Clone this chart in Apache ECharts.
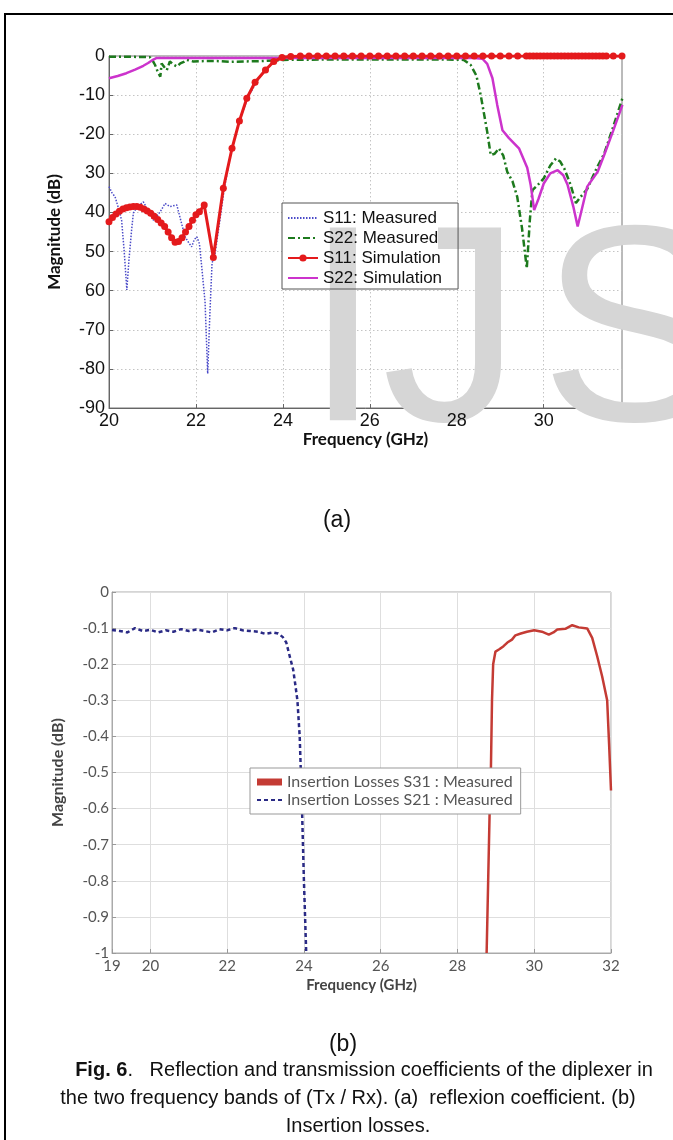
<!DOCTYPE html>
<html>
<head>
<meta charset="utf-8">
<script src="https://cdn.jsdelivr.net/npm/echarts@6/dist/echarts.min.js"></script>
<style>
  html, body { margin: 0; padding: 0; background: #fff; }
  #main { width: 673px; height: 1140px; }
</style>
</head>
<body>
<div id="main"></div>
<script>
// ---------- (a) reflexion coefficient ----------
const freqTicksA = [20, 22, 24, 26, 28, 30];
const dbLabelsA = ['0', '-10', '-20', '30', '40', '50', '60', '-70', '-80', '-90'];

// S11 measured (blue dotted)
const s11MeasFreq = [20.0, 20.07, 20.14, 20.22, 20.29, 20.35, 20.41, 20.46, 20.52, 20.56, 20.65, 20.79, 20.9, 21.02, 21.1, 21.18, 21.29, 21.4, 21.56, 21.65,
  21.75, 21.82, 21.9, 21.96, 22.02, 22.08, 22.14, 22.21, 22.27, 22.32, 22.37, 22.44, 22.55, 22.65, 22.8, 23.0, 23.2, 23.4, 23.6, 23.8,
  24.0, 24.4, 25.0, 26.0, 27.0, 28.0, 29.0, 30.0, 31.0, 31.8];
const s11MeasDb = [-33.4, -35, -36, -39, -42, -50, -59.8, -52, -44.5, -40.2, -38.5, -37.3, -39.5, -42, -41, -39.8, -37.7, -38.5, -38.1, -42,
  -46.2, -47.5, -48.8, -47, -46.2, -48, -54.7, -63, -81.2, -66, -53, -50.5, -42, -34, -25, -16.5, -10.5, -6.5, -3.5, -1.5,
  -0.5, -0.2, -0.1, -0.1, -0.1, -0.1, -0.1, -0.1, -0.1, -0.1];

// S22 measured (green dash-dot)
const s22MeasFreq = [20.0, 20.5, 20.94, 21.02, 21.06, 21.12, 21.18, 21.21, 21.27, 21.33, 21.4, 21.48, 21.56, 21.64, 21.72, 21.79, 21.94, 22.2, 22.48, 22.8,
  23.1, 23.5, 24.0, 25.0, 26.0, 27.0, 27.8, 28.16, 28.32, 28.45, 28.55, 28.7, 28.78, 28.87, 28.97, 29.07, 29.16, 29.28, 29.39, 29.5,
  29.61, 29.68, 29.74, 29.86, 30.0, 30.15, 30.28, 30.38, 30.47, 30.62, 30.74, 30.85, 31.0, 31.22, 31.39, 31.6, 31.81];
const s22MeasDb = [-0.2, -0.2, -0.3, -1.5, -2.3, -4, -5.3, -1.9, -2.8, -3.6, -1.4, -2.2, -2.7, -1.9, -1.5, -1.0, -1.4, -1.3, -1.3, -1.5,
  -1.4, -1.3, -1.0, -0.9, -0.9, -0.9, -0.9, -1.0, -2.3, -5, -10, -19.4, -25.3, -25, -23.6, -25.5, -29.6, -32, -36, -44,
  -54.3, -42, -34.3, -33, -31.3, -28, -26.2, -27, -28.7, -33, -37.6, -36, -34, -28.6, -25, -18, -10.8];

// S11 simulation (red, circles)
const s11SimFreq = [20.0, 20.08, 20.16, 20.24, 20.32, 20.40, 20.48, 20.56, 20.64, 20.72, 20.80, 20.88, 20.96, 21.04, 21.12, 21.20, 21.28, 21.36, 21.44, 21.52,
  21.60, 21.68, 21.76, 21.84, 21.92, 22.0, 22.08, 22.19, 22.4, 22.63, 22.83, 23.0, 23.17, 23.36, 23.6, 23.79, 23.98,
  24.18, 24.4, 24.6, 24.8, 25.0, 25.2, 25.4, 25.6, 25.8, 26.0, 26.2, 26.4, 26.6, 26.8, 27.0, 27.2, 27.4, 27.6, 27.8, 28.0,
  28.2, 28.4, 28.6, 28.8, 29.0, 29.2, 29.4, 29.6, 29.68, 29.76, 29.84, 29.92, 30.0, 30.08, 30.16, 30.24, 30.32, 30.4, 30.48,
  30.56, 30.64, 30.72, 30.8, 30.88, 30.96, 31.04, 31.12, 31.2, 31.28, 31.36, 31.44, 31.6, 31.8];
const s11SimDb = [-42.4, -41.3, -40.4, -39.7, -39.1, -38.8, -38.6, -38.5, -38.5, -38.7, -39.1, -39.6, -40.2, -41.0, -41.8, -42.7, -43.6, -45.0, -46.5, -47.6,
  -47.4, -46.5, -45.0, -43.6, -42.0, -40.6, -39.8, -38.1, -51.5, -33.8, -23.6, -16.6, -10.8, -6.7, -3.6, -1.4, -0.4,
  -0.15, 0, 0, 0, 0, 0, 0, 0, 0, 0, 0, 0, 0, 0, 0, 0, 0, 0, 0, 0,
  0, 0, 0, 0, 0, 0, 0, 0, 0, 0, 0, 0, 0, 0, 0, 0, 0, 0, 0,
  0, 0, 0, 0, 0, 0, 0, 0, 0, 0, 0, 0, 0, 0];

// S22 simulation (magenta)
const s22SimFreq = [20.0, 20.2, 20.4, 20.6, 20.79, 20.9, 21.02, 21.1, 21.17, 22.0, 24.0, 26.0, 28.0, 28.4, 28.59, 28.7, 28.82, 28.93, 29.05, 29.2,
  29.43, 29.62, 29.7, 29.78, 29.88, 30.0, 30.15, 30.32, 30.45, 30.55, 30.68, 30.78, 30.88, 31.0, 31.24, 31.39, 31.6, 31.81];
const s22SimDb = [-5.7, -5.1, -4.4, -3.5, -2.5, -1.8, -0.9, -0.5, -0.5, -0.5, -0.5, -0.5, -0.5, -0.5, -0.7, -2, -5.7, -12.5, -19, -21,
  -23.6, -28.6, -33, -39.4, -36.5, -32.6, -30, -29.2, -30.5, -33, -38.5, -43.6, -39, -33.4, -29.6, -25.3, -19, -12.5];

// ---------- (b) insertion losses ----------
const freqTicksB = [19, 20, 22, 24, 26, 28, 30, 32];
const dbLabelsB = ['0', '-0.1', '-0.2', '-0.3', '-0.4', '-0.5', '-0.6', '-0.7', '-0.8', '-0.9', '-1'];

const s31Freq = [28.76, 28.8, 28.84, 28.87, 28.9, 28.93, 28.99, 29.1, 29.2, 29.3, 29.42, 29.51, 29.65, 29.81, 30.0, 30.2, 30.38, 30.5, 30.6, 30.81,
  30.99, 31.16, 31.38, 31.51, 31.64, 31.77, 31.9, 31.95, 32.0];
const s31Db = [-1.0, -0.8, -0.6, -0.5, -0.3, -0.2, -0.165, -0.158, -0.15, -0.14, -0.132, -0.12, -0.115, -0.11, -0.106, -0.11, -0.118, -0.112, -0.104, -0.102,
  -0.092, -0.098, -0.101, -0.127, -0.178, -0.234, -0.3, -0.42, -0.55];

const s21Freq = [19.0, 19.2, 19.4, 19.6, 19.8, 20.0, 20.2, 20.4, 20.6, 20.8, 21.0, 21.2, 21.4, 21.6, 21.8, 22.0, 22.2, 22.4, 22.6, 22.8,
  23.0, 23.2, 23.33, 23.45, 23.54, 23.63, 23.72, 23.78, 23.83, 23.89, 23.92, 23.95, 24.0, 24.06];
const s21Db = [-0.105, -0.108, -0.112, -0.100, -0.108, -0.105, -0.112, -0.106, -0.110, -0.103, -0.108, -0.104, -0.108, -0.112, -0.103, -0.106, -0.100, -0.106, -0.108, -0.110,
  -0.116, -0.112, -0.115, -0.125, -0.14, -0.178, -0.215, -0.26, -0.3, -0.4, -0.5, -0.6, -0.8, -1.0];

function pairs(xs, ys) {
  return xs.map(function (x, i) { return [x, ys[i]]; });
}

var myChart = echarts.init(document.getElementById('main'));

var fontA = '"Liberation Sans", Arial, sans-serif';
var fontB = 'Lato, "Open Sans", sans-serif';
var capFont = '20px "Liberation Sans", Arial';

var option = {
  animation: false,
  backgroundColor: '#fff',
  grid: [
    {left: 109, top: 56, width: 513, height: 352, show: true, borderColor: '#777', borderWidth: 1, backgroundColor: 'transparent'},
    {left: 112, top: 592, width: 499, height: 361, show: true, borderColor: '#aaa', borderWidth: 1, backgroundColor: '#fff'}
  ],
  xAxis: [
    {
      // grid lines and ticks of (a)
      gridIndex: 0, type: 'value', min: 20, max: 31.8, position: 'bottom',
      axisLine: {show: true, onZero: false, lineStyle: {color: '#666'}},
      axisTick: {show: true, inside: true, length: 4, customValues: freqTicksA, lineStyle: {color: '#666'}},
      axisLabel: {show: false, customValues: freqTicksA},
      splitLine: {show: true, lineStyle: {color: '#c4c4c4', type: [1.5, 2.5], width: 1}}
    },
    {
      gridIndex: 1, type: 'value', min: 19, max: 32,
      axisLine: {show: true, onZero: false, lineStyle: {color: '#aaa'}},
      axisTick: {show: true, inside: true, length: 4, customValues: freqTicksB, lineStyle: {color: '#999'}},
      axisLabel: {customValues: freqTicksB, color: '#555', fontSize: 15, fontFamily: fontB, margin: 6, showMinLabel: true},
      splitLine: {show: true, lineStyle: {color: '#dedede', width: 1}},
      name: 'Frequency (GHz)', nameLocation: 'middle', nameGap: 25,
      nameTextStyle: {fontFamily: fontB, fontWeight: 'bold', fontSize: 15, color: '#444'}
    },
    {
      // tick labels of (a), drawn above the watermark
      gridIndex: 0, type: 'value', min: 20, max: 31.8, position: 'bottom', z: 3,
      axisLine: {show: false, onZero: false},
      axisTick: {show: false, customValues: freqTicksA},
      axisLabel: {customValues: freqTicksA, color: '#111', fontSize: 18, fontFamily: fontA, margin: 4},
      splitLine: {show: false},
      name: 'Frequency (GHz)', nameLocation: 'middle', nameGap: 22,
      nameTextStyle: {fontFamily: fontB, fontWeight: 'bold', fontSize: 17, color: '#111'}
    }
  ],
  yAxis: [
    {
      gridIndex: 0, type: 'value', min: -90, max: 0, interval: 10,
      axisLine: {show: true, onZero: false, lineStyle: {color: '#666'}},
      axisTick: {show: true, inside: true, length: 4, lineStyle: {color: '#666'}},
      axisLabel: {
        color: '#111', fontSize: 18, fontFamily: fontA, margin: 4,
        formatter: function (v) { return dbLabelsA[Math.round(-v / 10)]; }
      },
      splitLine: {show: true, lineStyle: {color: '#c4c4c4', type: [1.5, 2.5], width: 1}},
      name: 'Magnitude (dB)', nameLocation: 'middle', nameGap: 46, nameRotate: 90,
      nameTextStyle: {fontFamily: fontB, fontWeight: 'bold', fontSize: 17, color: '#111'}
    },
    {
      gridIndex: 1, type: 'value', min: -1, max: 0, interval: 0.1,
      axisLine: {show: true, onZero: false, lineStyle: {color: '#aaa'}},
      axisTick: {show: true, inside: true, length: 4, lineStyle: {color: '#999'}},
      axisLabel: {
        color: '#555', fontSize: 15, fontFamily: fontB, margin: 3,
        formatter: function (v) { return dbLabelsB[Math.round(-v * 10)]; }
      },
      splitLine: {show: true, lineStyle: {color: '#dedede', width: 1}},
      name: 'Magnitude (dB)', nameLocation: 'middle', nameGap: 46, nameRotate: 90,
      nameTextStyle: {fontFamily: fontB, fontWeight: 'bold', fontSize: 16, color: '#444'}
    }
  ],
  legend: [
    {
      orient: 'vertical', left: 282, top: 203,
      itemWidth: 30, itemHeight: 9, itemGap: 2,
      padding: [6, 16, 2, 5],
      borderColor: '#555', borderWidth: 1, borderRadius: 0,
      backgroundColor: 'transparent',
      textStyle: {fontSize: 17, fontFamily: fontA, color: '#111', lineHeight: 18},
      data: [
        {name: 'S11: Measured', itemStyle: {opacity: 0}},
        {name: 'S22: Measured', itemStyle: {opacity: 0}},
        {name: 'S11: Simulation'},
        {name: 'S22: Simulation', itemStyle: {opacity: 0}}
      ]
    },
    {
      orient: 'vertical', left: 250, top: 768,
      itemWidth: 25, itemHeight: 7, itemGap: 2,
      padding: [6, 8, 6, 6],
      borderColor: '#999', borderWidth: 1, borderRadius: 0,
      backgroundColor: '#fff',
      textStyle: {fontSize: 16, fontFamily: fontB, color: '#555', lineHeight: 16},
      data: [
        {name: 'Insertion Losses S31 : Measured', icon: 'rect'},
        {name: 'Insertion Losses S21 : Measured', itemStyle: {opacity: 0}}
      ]
    }
  ],
  series: [
    {
      name: 'S11: Measured', type: 'line', xAxisIndex: 0, yAxisIndex: 0,
      data: pairs(s11MeasFreq, s11MeasDb), symbol: 'none',
      lineStyle: {color: '#4a4ac8', width: 1.5, type: [1.5, 1.5]}, itemStyle: {color: '#4a4ac8'}
    },
    {
      name: 'S22: Measured', type: 'line', xAxisIndex: 0, yAxisIndex: 0,
      data: pairs(s22MeasFreq, s22MeasDb), symbol: 'none',
      lineStyle: {color: '#1d7a1d', width: 2.5, type: [7, 3, 2, 3]}, itemStyle: {color: '#1d7a1d'}
    },
    {
      name: 'S22: Simulation', type: 'line', xAxisIndex: 0, yAxisIndex: 0,
      data: pairs(s22SimFreq, s22SimDb), symbol: 'none',
      lineStyle: {color: '#cc33cc', width: 2.5}, itemStyle: {color: '#cc33cc'}
    },
    {
      name: 'S11: Simulation', type: 'line', xAxisIndex: 0, yAxisIndex: 0,
      data: pairs(s11SimFreq, s11SimDb), symbol: 'circle', symbolSize: 7, showSymbol: true,
      lineStyle: {color: '#e41a1c', width: 3}, itemStyle: {color: '#e41a1c'}
    },
    {
      name: 'Insertion Losses S31 : Measured', type: 'line', xAxisIndex: 1, yAxisIndex: 1,
      data: pairs(s31Freq, s31Db), symbol: 'none',
      lineStyle: {color: '#c43b34', width: 2.5}, itemStyle: {color: '#c43b34'}
    },
    {
      name: 'Insertion Losses S21 : Measured', type: 'line', xAxisIndex: 1, yAxisIndex: 1,
      data: pairs(s21Freq, s21Db), symbol: 'none',
      lineStyle: {color: '#2a2a85', width: 2.5, type: [4, 3]}, itemStyle: {color: '#2a2a85'}
    }
  ],
  graphic: [
    // page frame
    {type: 'rect', shape: {x: 5, y: 14, width: 720, height: 1200}, style: {fill: 'none', stroke: '#000', lineWidth: 2}, z: 10},
    // white backing of legend (a), below the watermark
    {type: 'rect', shape: {x: 282, y: 203, width: 178, height: 86}, style: {fill: '#fff'}, z: 1},
    // watermark
    {type: 'text', x: 304, y: 343, z: 1.5, silent: true,
      style: {text: 'IJ', font: '280px "Liberation Sans", Arial', fill: '#d6d6d6', textVerticalAlign: 'middle'}},
    {type: 'text', x: 540, y: 343, z: 1.5, silent: true,
      style: {text: 'S', font: '280px "Liberation Sans", Arial', fill: '#d6d6d6', textVerticalAlign: 'middle'}},
    // sub-captions
    {type: 'text', x: 337, y: 521, style: {text: '(a)', font: '23px "Liberation Sans", Arial', fill: '#111', textAlign: 'center', textVerticalAlign: 'middle'}},
    {type: 'text', x: 343, y: 1045, style: {text: '(b)', font: '23px "Liberation Sans", Arial', fill: '#111', textAlign: 'center', textVerticalAlign: 'middle'}},
    {type: 'text', x: 364, y: 1070, style: {
      text: '{b|Fig. 6}.   Reflection and transmission coefficients of the diplexer in',
      font: capFont, fill: '#111', textAlign: 'center', textVerticalAlign: 'middle',
      rich: {b: {fontWeight: 'bold', fontSize: 20, fontFamily: '"Liberation Sans", Arial', fill: '#111'}}
    }},
    {type: 'text', x: 348, y: 1098, style: {
      text: 'the two frequency bands of (Tx / Rx). (a)  reflexion coefficient. (b)',
      font: capFont, fill: '#111', textAlign: 'center', textVerticalAlign: 'middle'
    }},
    {type: 'text', x: 358, y: 1126, style: {
      text: 'Insertion losses.',
      font: capFont, fill: '#111', textAlign: 'center', textVerticalAlign: 'middle'
    }}
  ]
};

myChart.setOption(option);
</script>
</body>
</html>
